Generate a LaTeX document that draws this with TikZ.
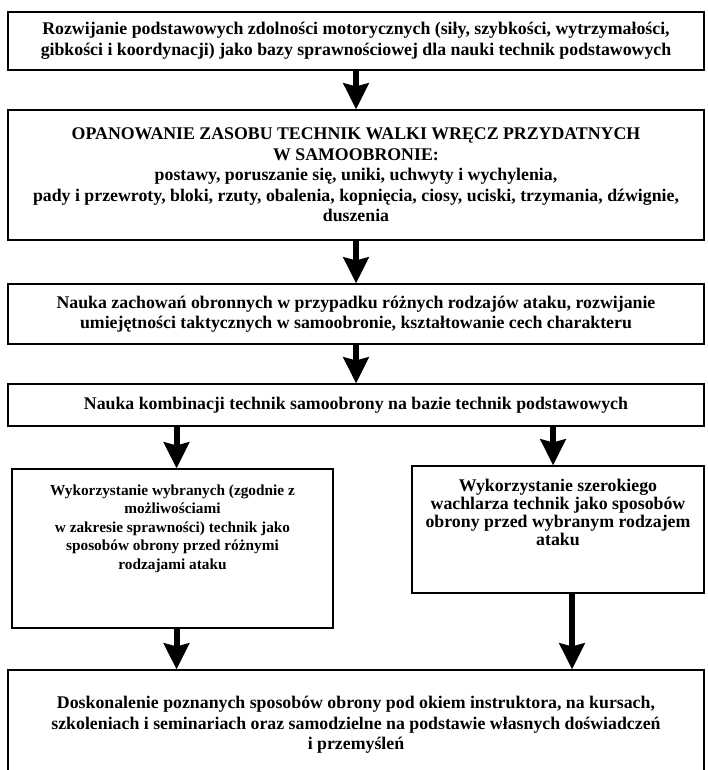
\documentclass[tikz,border=0pt]{standalone}
\usepackage{fontspec}
\setmainfont{Liberation Serif}
\usetikzlibrary{arrows.meta}

\begin{document}
\begin{tikzpicture}[x=1pt, y=-1pt, >={Stealth[length=26pt, width=25pt, inset=3pt]}, line width=1.1pt]
    \tikzstyle{box}=[draw, align=center, inner sep=0pt]
    \tikzstyle{large}=[font=\bfseries\fontsize{17.8}{20.5}\selectfont]
    \tikzstyle{tight}=[font=\bfseries\fontsize{17.8}{18}\selectfont]
    \tikzstyle{small}=[font=\bfseries\fontsize{15.3}{18.5}\selectfont]
    \tikzstyle{arrow}=[->, line width=6pt]

    \clip (0,0) rectangle (708,770);

    \node[box, large, minimum width=696pt, minimum height=58pt] (b1) at (356,41)
        {Rozwijanie podstawowych zdolności motorycznych (siły, szybkości, wytrzymałości,\\
         gibkości i koordynacji) jako bazy sprawnościowej dla nauki technik podstawowych};
    \node[box, large, minimum width=696pt, minimum height=130pt] (b2) at (356,175)
        {OPANOWANIE ZASOBU TECHNIK WALKI WRĘCZ PRZYDATNYCH\\
         W SAMOOBRONIE:\\
         postawy, poruszanie się, uniki, uchwyty i wychylenia,\\
         pady i przewroty, bloki, rzuty, obalenia, kopnięcia, ciosy, uciski, trzymania, dźwignie,\\
         duszenia};
    \node[box, large, minimum width=696pt, minimum height=60pt] (b3) at (356,314)
        {Nauka zachowań obronnych w przypadku różnych rodzajów ataku, rozwijanie\\
         umiejętności taktycznych w samoobronie, kształtowanie cech charakteru};
    \node[box, large, minimum width=696pt, minimum height=42pt] (b4) at (356,405)
        {Nauka kombinacji technik samoobrony na bazie technik podstawowych};
    \node[box, small, minimum width=321pt, minimum height=159pt, text depth=43pt] (b5l) at (172.5,548.5)
        {Wykorzystanie wybranych (zgodnie z\\
         możliwościami\\
         w zakresie sprawności) technik jako\\
         sposobów obrony przed różnymi\\
         rodzajami ataku};
    \node[box, tight, minimum width=292pt, minimum height=127pt, text depth=34pt] (b5r) at (558,529.5)
        {Wykorzystanie szerokiego\\
         wachlarza technik jako sposobów\\
         obrony przed wybranym rodzajem\\
         ataku};
    \node[box, large, minimum width=696pt, minimum height=110pt] (b6) at (356,725)
        {Doskonalenie poznanych sposobów obrony pod okiem instruktora, na kursach,\\
         szkoleniach i seminariach oraz samodzielne na podstawie własnych doświadczeń\\
         i przemyśleń};

    \draw[arrow] (b1) -- (b2);
    \draw[arrow] (b2) -- (b3);
    \draw[arrow] (b3) -- (b4);
    \draw[arrow] ([xshift=4pt]b4.south -| b5l) -- ([xshift=4pt]b5l.north);
    \draw[arrow] ([xshift=-5pt]b4.south -| b5r) -- ([xshift=-5pt]b5r.north);
    \draw[arrow] ([xshift=4pt]b5l.south) -- ([xshift=4pt]b5l.south |- b6.north);
    \draw[arrow] ([xshift=14pt]b5r.south) -- ([xshift=14pt]b5r.south |- b6.north);
\end{tikzpicture}
\end{document}
